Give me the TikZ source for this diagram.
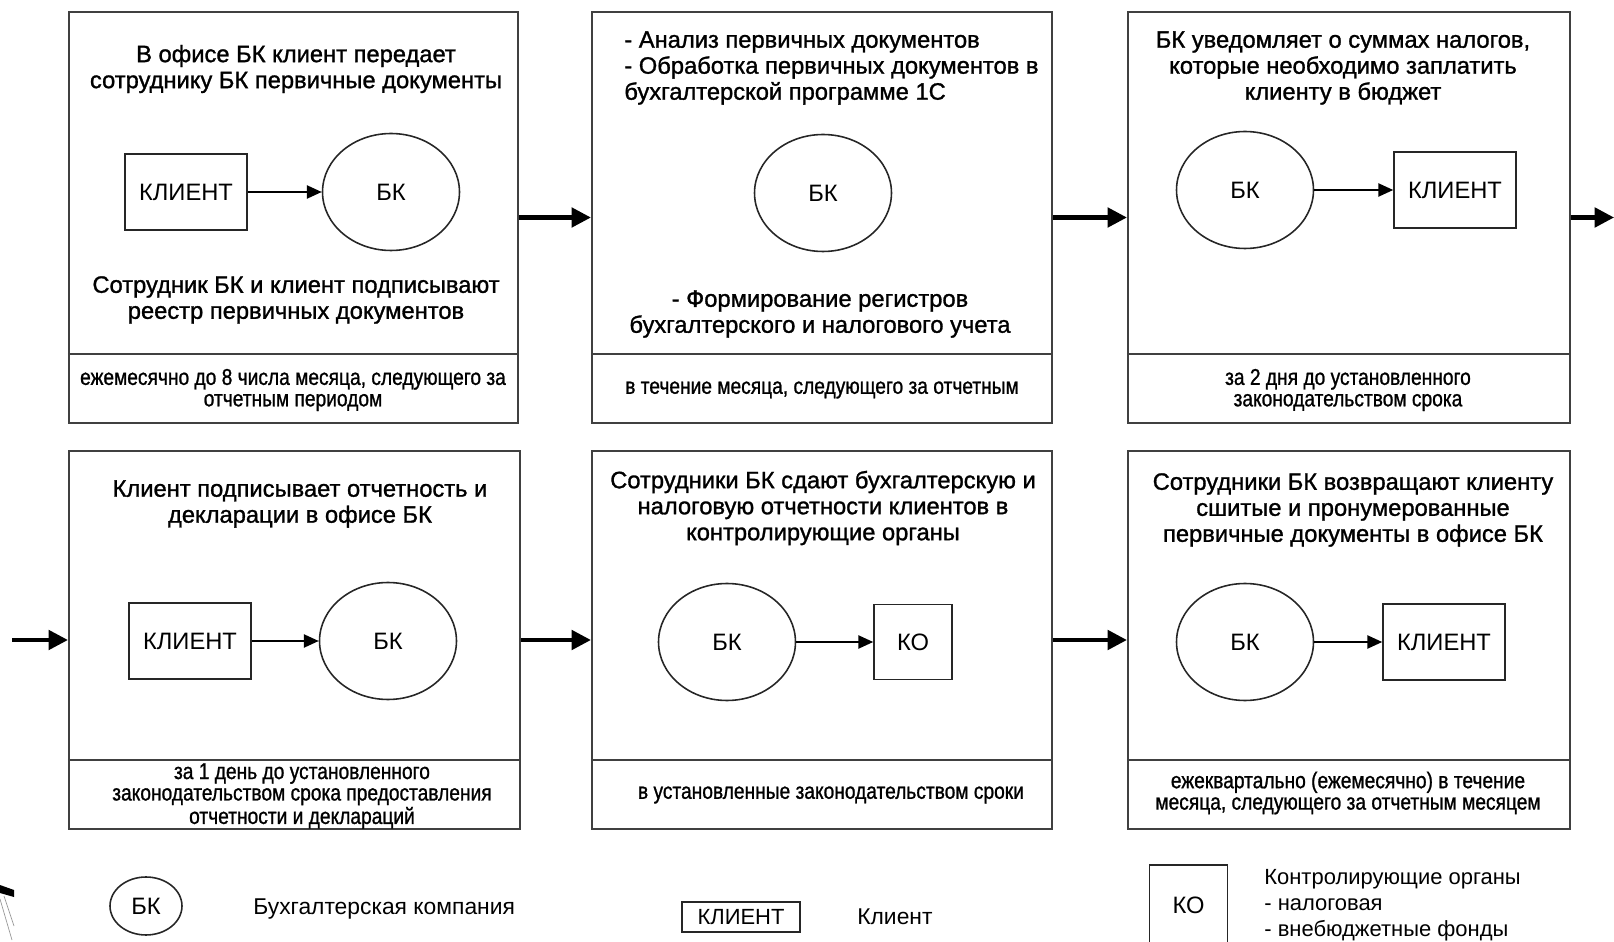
\documentclass[tikz,border=0pt]{standalone}
\usepackage{fontspec}
\setmainfont{Liberation Sans}
\newfontfamily\heavyfont[FakeBold=1.2]{Liberation Sans}
\newfontfamily\narrowfont[FakeStretch=0.84, FakeBold=1]{Liberation Sans}
\usetikzlibrary{shapes.geometric,arrows.meta,positioning,calc}

\tikzset{
  stepbox/.style={draw=black!75, line width=1.3pt, rectangle, minimum height=8.22cm},
  divline/.style={draw=black!75, line width=1.3pt},
  bkcirc/.style={ellipse, draw=black!85, line width=0.9pt, minimum width=2.74cm, minimum height=2.34cm, inner sep=0pt, font=\fontsize{13.5}{14.8}\selectfont},
  rectbox/.style={rectangle, draw=black!85, line width=0.9pt, minimum width=2.44cm, minimum height=1.52cm, inner sep=0pt, font=\fontsize{13.5}{14.8}\selectfont},
  kobox/.style={rectbox, minimum width=1.56cm, minimum height=1.5cm},
  title/.style={align=center, inner sep=0pt, font=\heavyfont\fontsize{13.5}{14.8}\selectfont},
  note/.style={align=center, inner sep=0pt, font=\narrowfont\fontsize{13}{12.2}\selectfont},
  legtext/.style={anchor=west, inner sep=0pt, font=\fontsize{13}{15.4}\selectfont},
  smallarrow/.style={line width=1.1pt, -{Triangle[length=8.5pt, width=7.5pt]}},
  bigarrow/.style={line width=2.3pt, -{Triangle[length=11pt, width=11pt]}}
}

\begin{document}
\begin{tikzpicture}[x=0.02cm, y=-0.02cm]
    \useasboundingbox (0,0) rectangle (1614,942);

    \node[stepbox, minimum width=8.98cm] (b1) at (293.5,217.5) {};
    \node[stepbox, minimum width=9.2cm] (b2) at (822,217.5) {};
    \node[stepbox, minimum width=8.84cm] (b3) at (1349,217.5) {};
    \node[stepbox, minimum width=9.02cm, minimum height=7.56cm] (b4) at (294.5,640) {};
    \node[stepbox, minimum width=9.2cm, minimum height=7.56cm] (b5) at (822,640) {};
    \node[stepbox, minimum width=8.84cm, minimum height=7.56cm] (b6) at (1349,640) {};
    \foreach \b in {b1,b2,b3,b4,b5,b6}
        \draw[divline] ([yshift=1.4cm]\b.south west) -- ([yshift=1.4cm]\b.south east);

    \node[title] (t1) at (296,69) {В офисе БК клиент передает\\сотруднику БК первичные документы};
    \node[rectbox] (k1) at (186,192) {КЛИЕНТ};
    \node[bkcirc] (c1) at (391,192) {БК};
    \draw[smallarrow] (k1) -- (c1);
    \node[title] (u1) at (296,300) {Сотрудник БК и клиент подписывают\\реестр первичных документов};
    \node[note] (n1) at (293,390) {ежемесячно до 8 числа месяца, следующего за\\отчетным периодом};

    \node[title, align=left, anchor=west] (t2) at (624,68) {- Анализ первичных документов\\- Обработка первичных документов в\\бухгалтерской программе 1С};
    \node[bkcirc] (c2) at (823,193) {БК};
    \node[title] (u2) at (820,314) {- Формирование регистров\\бухгалтерского и налогового учета};
    \node[note] (n2) at (822,390) {в течение месяца, следующего за отчетным};

    \node[title] (t3) at (1343,68) {БК уведомляет о суммах налогов,\\которые необходимо заплатить\\клиенту в бюджет};
    \node[bkcirc] (c3) at (1245,190) {БК};
    \node[rectbox] (k3) at (1455,190) {КЛИЕНТ};
    \draw[smallarrow] (c3) -- (k3);
    \node[note] (n3) at (1348,390) {за 2 дня до установленного\\законодательством срока};

    \node[title] (t4) at (300,504) {Клиент подписывает отчетность и\\декларации в офисе БК};
    \node[rectbox] (k4) at (190,641) {КЛИЕНТ};
    \node[bkcirc] (c4) at (388,641) {БК};
    \draw[smallarrow] (k4) -- (c4);
    \node[note] (n4) at (302,796) {за 1 день до установленного\\законодательством срока предоставления\\отчетности и деклараций};

    \node[title] (t5) at (823,508) {Сотрудники БК сдают бухгалтерскую и\\налоговую отчетности клиентов в\\контролирующие органы};
    \node[bkcirc] (c5) at (727,642) {БК};
    \node[kobox] (o5) at (913,642) {КО};
    \draw[smallarrow] (c5) -- (o5);
    \node[note] (n5) at (831,795) {в установленные законодательством сроки};

    \node[title] (t6) at (1353,510) {Сотрудники БК возвращают клиенту\\сшитые и пронумерованные\\первичные документы в офисе БК};
    \node[bkcirc] (c6) at (1245,642) {БК};
    \node[rectbox] (k6) at (1444,642) {КЛИЕНТ};
    \draw[smallarrow] (c6) -- (k6);
    \node[note] (n6) at (1348,793) {ежеквартально (ежемесячно) в течение\\месяца, следующего за отчетным месяцем};

    \coordinate (out3) at (1614,217.5);
    \coordinate (in4) at (12,640);
    \draw[bigarrow] (b1) -- (b2);
    \draw[bigarrow] (b2) -- (b3);
    \draw[bigarrow] (b3.east) -- (out3);
    \draw[bigarrow] (in4) -- (b4.west);
    \draw[bigarrow] (b4) -- (b5);
    \draw[bigarrow] (b5) -- (b6);

    \node[bkcirc, minimum width=1.44cm, minimum height=1.16cm] (l1) at (146,906) {БК};
    \node[legtext] (l1t) at (253,909) {Бухгалтерская компания};
    \node[rectbox, line width=1.6pt, minimum width=2.36cm, minimum height=0.6cm, font=\fontsize{12.5}{14}\selectfont] (l2) at (741,917) {КЛИЕНТ};
    \node[legtext] (l2t) at (857,917) {Клиент};
    \node[kobox, minimum height=1.6cm] (l3) at (1188.5,905) {КО};
    \node[legtext, align=left, font=\fontsize{12.5}{14.8}\selectfont] (l3t) at (1264,905) {Контролирующие органы\\- налоговая\\- внебюджетные фонды};

    \fill[black] (0,885) -- (14,890) -- (14,897) -- (0,893) -- cycle;
    \draw[black!40] (0,899) -- (12,940);
    \draw[black!40] (4,896) -- (14,926);
\end{tikzpicture}
\end{document}
